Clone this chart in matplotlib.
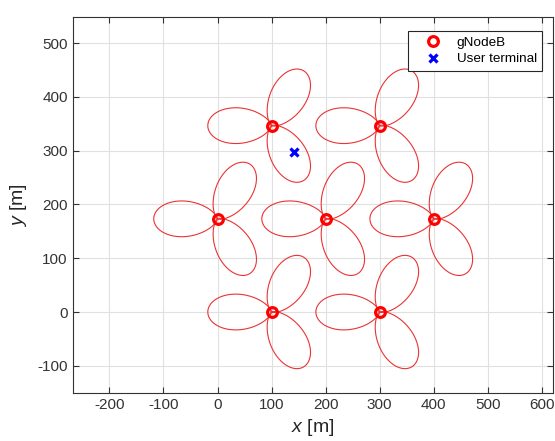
import numpy as np
import matplotlib.pyplot as plt

plt.rcParams['font.family'] = ['Liberation Sans', 'DejaVu Sans']
plt.rcParams['axes.unicode_minus'] = False
plt.rcParams['mathtext.fontset'] = 'custom'
plt.rcParams['mathtext.it'] = 'Liberation Sans:italic'
plt.rcParams['mathtext.rm'] = 'Liberation Sans'

# gNodeB sites (hex layout, ISD 200 m)
site_x = [100, 300, 0, 200, 400, 100, 300]
site_y = [0, 0, 173.2, 173.2, 173.2, 346.4, 346.4]
# sector boresights [deg]
sector_az = [60, 180, 300]
# user terminal
ue_x = [142]
ue_y = [298]
# beam pattern scaling
beam_len = 118.0   # m at boresight
hpbw = 65.0        # deg
sla = 30.0         # dB

fig = plt.figure(figsize=(5.55, 4.41), dpi=100)
ax = fig.add_axes([0.131, 0.1095, 0.866, 0.8515])

theta = np.linspace(-180, 180, 721)
gain_db = -np.minimum(12 * (theta / hpbw) ** 2, sla)
r = beam_len * 10 ** (gain_db / 10)

for sx, sy in zip(site_x, site_y):
    for az in sector_az:
        ang = np.deg2rad(theta + az)
        ax.plot(sx + r * np.cos(ang), sy + r * np.sin(ang),
                color=(0.92, 0.2, 0.2), lw=0.8, zorder=2)

ax.plot(site_x, site_y, 'o', ms=7, mfc='none', mec='red', mew=2.3,
        ls='none', label='gNodeB', zorder=3)
ax.plot(ue_x, ue_y, 'x', ms=5.5, mec='blue', mew=2.3, ls='none',
        label='User terminal', zorder=3)

ax.set_xlim(-268, 621.5)
ax.set_ylim(-150, 548)
ax.set_xticks(np.arange(-200, 601, 100))
ax.set_yticks(np.arange(-100, 501, 100))
ax.grid(True, color=(0.88, 0.88, 0.88), lw=0.8)
ax.set_axisbelow(True)
ax.tick_params(direction='in', top=True, right=True, labelsize=11,
               colors=(0.2, 0.2, 0.2), length=4)
for s in ax.spines.values():
    s.set_color((0.2, 0.2, 0.2))
    s.set_linewidth(0.8)

ax.set_xlabel('$x$ [m]', fontsize=14, color=(0.15, 0.15, 0.15), labelpad=4)
ax.set_ylabel('$y$ [m]', fontsize=14, color=(0.15, 0.15, 0.15), labelpad=6)

leg = ax.legend(loc='upper right', bbox_to_anchor=(0.9765, 0.963),
                fontsize=9.7, fancybox=False, edgecolor=(0.15, 0.15, 0.15),
                framealpha=1, borderaxespad=0, handletextpad=0.3,
                handlelength=2.9, borderpad=0.4, labelspacing=0.3)
leg.get_frame().set_linewidth(0.8)

fig.savefig('out.png', dpi=100)
